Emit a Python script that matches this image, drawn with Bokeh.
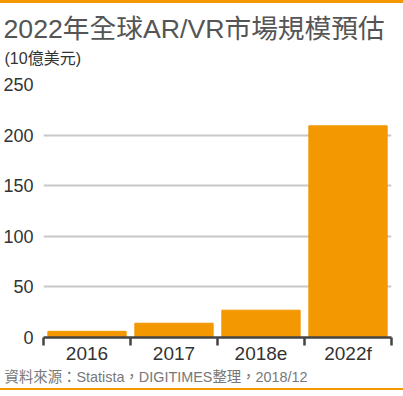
from bokeh.plotting import figure
from bokeh.models import FixedTicker, Range1d, ColumnDataSource, Title
from bokeh.embed import file_html
from bokeh.resources import INLINE

categories = ["2016", "2017", "2018e", "2022f"]
values = [6.1, 14.1, 27.0, 209.2]
y_ticks = [0, 50, 100, 150, 200, 250]

title_text = "2022年全球AR/VR市場規模預估"
unit_text = "(10億美元)"
source_text = "資料來源：Statista，DIGITIMES整理，2018/12"

ORANGE = "#F39800"
FONT = "'Liberation Sans', 'Noto Sans CJK TC'"

xs = [i + 0.5 for i in range(len(categories))]
src = ColumnDataSource(dict(x=xs, top=values))

p = figure(width=403, height=390, output_backend="svg", toolbar_location=None,
           x_range=Range1d(0, len(categories)), y_range=Range1d(0, 250),
           min_border_left=43, min_border_right=12, min_border_top=81, min_border_bottom=56,
           styles={"position": "absolute", "left": "0px", "top": "0px",
                   "border-top": f"3px solid {ORANGE}",
                   "border-bottom": f"2px solid {ORANGE}"})
p.outline_line_color = None
p.background_fill_color = "white"

p.vbar(x="x", top="top", width=0.9, source=src, color=ORANGE)

spacer = Title(text=" ", text_font_size="1px", standoff=11)
p.add_layout(spacer, "above")
sub = Title(text=unit_text, text_font=FONT, text_font_size="16px", text_color="#333333",
            text_font_style="normal", align="left", offset=-39, standoff=8)
p.add_layout(sub, "above")
t = Title(text=title_text, text_font=FONT, text_font_size="26.7px", text_color="#555555",
          text_font_style="normal", align="left", offset=-40, standoff=0)
p.add_layout(t, "above")
s = Title(text=source_text, text_font=FONT, text_font_size="14.4px", text_color="#777777",
          text_font_style="normal", align="left", offset=-39, standoff=0)
p.add_layout(s, "below")

# y axis
p.yaxis.ticker = FixedTicker(ticks=y_ticks)
p.yaxis.axis_line_color = None
p.yaxis.major_tick_line_color = None
p.yaxis.major_tick_out = 0
p.yaxis.minor_tick_line_color = None
p.yaxis.major_label_standoff = 10
p.yaxis.major_label_text_font = FONT
p.yaxis.major_label_text_font_size = "18px"
p.yaxis.major_label_text_color = "#333333"

p.ygrid.grid_line_color = "#c8c8c8"
p.ygrid.grid_line_width = 2
p.xgrid.grid_line_color = None

# x axis
p.xaxis.ticker = FixedTicker(ticks=xs, minor_ticks=list(range(len(categories) + 1)))
p.xaxis.major_label_overrides = {x: c for x, c in zip(xs, categories)}
p.xaxis.major_tick_line_color = None
p.xaxis.major_tick_out = 0
p.xaxis.minor_tick_line_color = "#444444"
p.xaxis.minor_tick_line_width = 2.5
p.xaxis.minor_tick_out = 8
p.xaxis.minor_tick_in = 0
p.xaxis.axis_line_color = "#444444"
p.xaxis.axis_line_width = 2.5
p.xaxis.major_label_standoff = -3
p.xaxis.major_label_text_font = FONT
p.xaxis.major_label_text_font_size = "19px"
p.xaxis.major_label_text_color = "#333333"

open("out.html", "w").write(file_html(p, INLINE))
